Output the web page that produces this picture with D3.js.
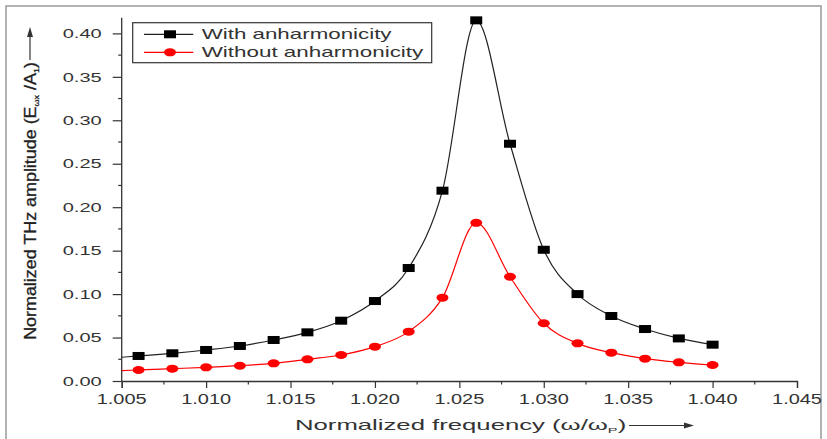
<!DOCTYPE html>
<html>
<head>
<meta charset="utf-8">
<script src="https://cdn.jsdelivr.net/npm/d3@7"></script>
<style>
  html, body { margin: 0; padding: 0; background: #fff; }
  svg { display: block; }
  text { font-family: "Liberation Sans", Arial, sans-serif; fill: #333; }
</style>
</head>
<body>
<div id="chart"></div>
<script>
// values
var freq = [1.006, 1.008, 1.010, 1.012, 1.014, 1.016, 1.018, 1.020, 1.022,
            1.024, 1.026, 1.028, 1.030, 1.032, 1.034, 1.036, 1.038, 1.040];
var withAnh = [0.0288, 0.0319, 0.0357, 0.0403, 0.0472, 0.056, 0.0694, 0.092, 0.130,
               0.219, 0.415, 0.273, 0.151, 0.100, 0.0748, 0.0598, 0.049, 0.0418];
var withoutAnh = [0.0127, 0.0142, 0.0157, 0.0176, 0.0203, 0.0249, 0.0299, 0.0395, 0.0568,
                  0.0959, 0.182, 0.120, 0.0664, 0.0433, 0.0326, 0.0257, 0.0215, 0.0184];
// curves start at the left axis
var curveStartX = 1.005;
var withStart = 0.0273, withoutStart = 0.0119;

var xTicks = [1.005, 1.010, 1.015, 1.020, 1.025, 1.030, 1.035, 1.040, 1.045];
var yTicks = [0, 0.05, 0.10, 0.15, 0.20, 0.25, 0.30, 0.35, 0.40];
var seriesNames = ["With anharmonicity", "Without anharmonicity"];

var W = 827, H = 439;
var svg = d3.select("#chart").append("svg").attr("width", W).attr("height", H);

// outer frame of the figure
svg.append("rect").attr("x", 6).attr("y", 6).attr("width", 815).attr("height", 445)
    .attr("fill", "none").attr("stroke", "#999").attr("stroke-width", 1.5);

var x = d3.scaleLinear().domain([1.005, 1.045]).range([121.7, 797]);
var y = d3.scaleLinear().domain([0, 0.42]).range([381, 16]);

// stretch a text element horizontally (in its own frame) to a target width
function fit(sel, target) {
    sel.each(function () {
        var t = d3.select(this), len = this.getComputedTextLength();
        var base = t.attr("transform") || "";
        t.attr("transform", base + " scale(" + (target / len) + ",1)");
    });
}

var g = svg.append("g");

// x axis
var xAxis = d3.axisBottom(x).tickValues(xTicks).tickSize(7).tickFormat(d3.format(".3f"));
var gx = g.append("g").attr("transform", "translate(0," + y(0) + ")").call(xAxis);
gx.select(".domain").attr("stroke", "#333").attr("stroke-width", 1.3);
gx.selectAll(".tick line").attr("stroke", "#333").attr("stroke-width", 1.2);
gx.selectAll(".tick text").remove();
gx.selectAll(".minor").data(xTicks.slice(0, -1).map(function (d) { return d + 0.0025; }))
    .enter().append("line").attr("class", "minor")
    .attr("x1", function (d) { return x(d); }).attr("x2", function (d) { return x(d); })
    .attr("y1", 0).attr("y2", 3.5).attr("stroke", "#333").attr("stroke-width", 1.2);
g.selectAll(".xlab").data(xTicks).enter().append("text").attr("class", "xlab")
    .attr("text-anchor", "middle").attr("font-size", 14)
    .attr("transform", function (d) { return "translate(" + x(d) + ",404)"; })
    .text(function (d) { return d3.format(".3f")(d); })
    .call(fit, 50);

// y axis
var yAxis = d3.axisLeft(y).tickValues(yTicks).tickSize(9);
var gy = g.append("g").attr("transform", "translate(" + x(1.005) + ",0)").call(yAxis);
gy.select(".domain").attr("d", "M0," + y(0) + "V" + y(0.418)).attr("stroke", "#333").attr("stroke-width", 1.3);
gy.selectAll(".tick line").attr("stroke", "#333").attr("stroke-width", 1.2);
gy.selectAll(".tick text").remove();
gy.selectAll(".minor").data(yTicks.slice(0, -1).map(function (d) { return d + 0.025; }))
    .enter().append("line").attr("class", "minor")
    .attr("y1", function (d) { return y(d); }).attr("y2", function (d) { return y(d); })
    .attr("x1", 0).attr("x2", -3.5).attr("stroke", "#333").attr("stroke-width", 1.2);
g.selectAll(".ylab").data(yTicks).enter().append("text").attr("class", "ylab")
    .attr("text-anchor", "end").attr("font-size", 13)
    .attr("transform", function (d) { return "translate(101.7," + (y(d) + 4.7) + ")"; })
    .text(function (d) { return d3.format(".2f")(d); })
    .call(fit, 39);

// axis titles
var xt = g.append("text").attr("text-anchor", "middle").attr("font-size", 14)
    .attr("transform", "translate(460.6,430)");
xt.append("tspan").text("Normalized frequency (ω/ω");
xt.append("tspan").attr("font-size", 8).attr("dy", 3).text("P");
xt.append("tspan").attr("dy", -3).text(")");
fit(xt, 331.6);
g.append("line").attr("x1", 629).attr("x2", 686).attr("y1", 425.5).attr("y2", 425.5)
    .attr("stroke", "#333").attr("stroke-width", 1.2);
g.append("path").attr("d", "M694,425.5L684,422.5L684,428.5Z").attr("fill", "#333");

var yt = g.append("text").attr("text-anchor", "middle").attr("font-size", 16)
    .style("fill", "#222").attr("stroke", "#222").attr("stroke-width", 0.3)
    .attr("transform", "translate(35.5,201) rotate(-90)");
yt.append("tspan").text("Normalized THz amplitude (E");
yt.append("tspan").attr("font-size", 8).attr("dy", 3).text("ωx");
yt.append("tspan").attr("dy", -3).text(" /A");
yt.append("tspan").attr("font-size", 8).attr("dy", 3).text("1");
yt.append("tspan").attr("dy", -3).text(")");
fit(yt, 278);
g.append("line").attr("x1", 30).attr("x2", 30).attr("y1", 60).attr("y2", 36)
    .attr("stroke", "#333").attr("stroke-width", 1.2);
g.append("path").attr("d", "M30,27L27,37L33,37Z").attr("fill", "#333");

// curves
var line = d3.line().x(function (d) { return x(d[0]); }).y(function (d) { return y(d[1]); })
    .curve(d3.curveMonotoneX);
var blackPts = [[curveStartX, withStart]].concat(freq.map(function (f, i) { return [f, withAnh[i]]; }));
var redPts = [[curveStartX, withoutStart]].concat(freq.map(function (f, i) { return [f, withoutAnh[i]]; }));

g.append("path").datum(blackPts).attr("d", line).attr("fill", "none")
    .attr("stroke", "#222").attr("stroke-width", 1.2);
g.append("path").datum(redPts).attr("d", line).attr("fill", "none")
    .attr("stroke", "#f00").attr("stroke-width", 1.2);

g.selectAll(".sq").data(freq).enter().append("rect").attr("class", "sq")
    .attr("x", function (d) { return x(d) - 6; })
    .attr("y", function (d, i) { return y(withAnh[i]) - 4; })
    .attr("width", 12).attr("height", 8).attr("fill", "#000");
g.selectAll(".dot").data(freq).enter().append("ellipse").attr("class", "dot")
    .attr("cx", function (d) { return x(d); })
    .attr("cy", function (d, i) { return y(withoutAnh[i]); })
    .attr("rx", 6).attr("ry", 4).attr("fill", "#f00");

// legend
var lg = g.append("g");
lg.append("rect").attr("x", 132.7).attr("y", 22.7).attr("width", 299).attr("height", 40)
    .attr("fill", "#fff").attr("stroke", "#333").attr("stroke-width", 1.2);
var rows = [{ yy: 34.3, c: "#222", w: 190 }, { yy: 52.3, c: "#f00", w: 221.7 }];
rows.forEach(function (r, i) {
    lg.append("line").attr("x1", 144).attr("x2", 193.3).attr("y1", r.yy).attr("y2", r.yy)
        .attr("stroke", r.c).attr("stroke-width", 1.2);
    if (i == 0) {
        lg.append("rect").attr("x", 164).attr("y", r.yy - 4).attr("width", 12).attr("height", 8).attr("fill", "#000");
    } else {
        lg.append("ellipse").attr("cx", 170).attr("cy", r.yy).attr("rx", 6).attr("ry", 4).attr("fill", "#f00");
    }
    var t = lg.append("text").attr("font-size", 14)
        .attr("transform", "translate(201.7," + (r.yy + 5) + ")").text(seriesNames[i]);
    fit(t, r.w);
});
</script>
</body>
</html>
